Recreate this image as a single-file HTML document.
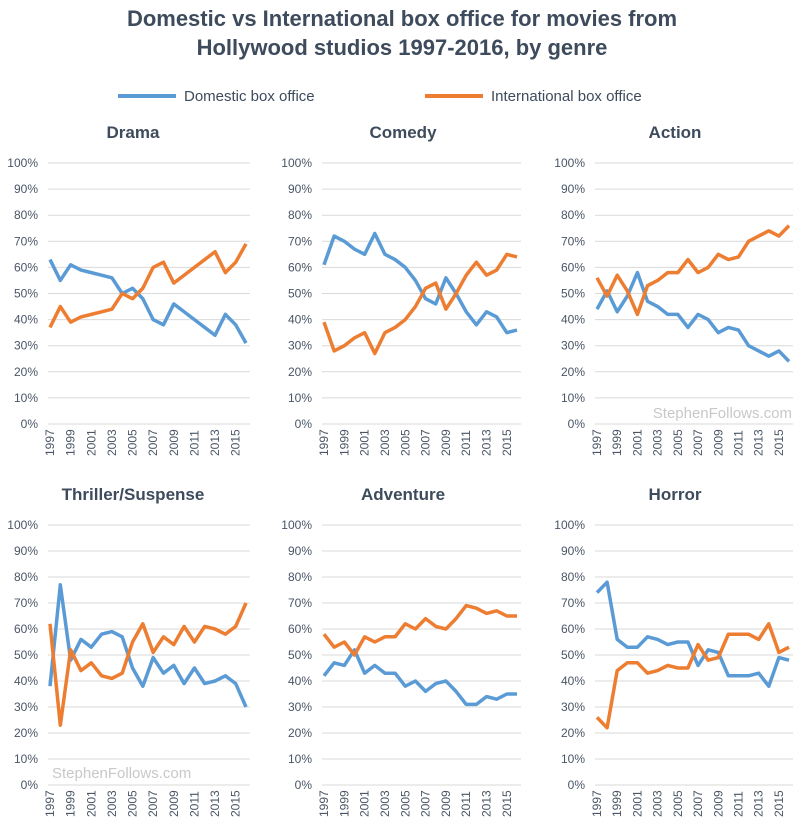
<!DOCTYPE html>
<html><head><meta charset="utf-8"><style>
body{margin:0;background:#fff;font-family:"Liberation Sans",sans-serif;}
svg text{font-family:"Liberation Sans",sans-serif;}
</style></head><body>
<svg id="chart" width="805" height="832" xmlns="http://www.w3.org/2000/svg">
<text x="402" y="26" text-anchor="middle" font-size="22" font-weight="bold" fill="#3d4b5c">Domestic vs International box office for movies from</text>
<text x="402" y="55" text-anchor="middle" font-size="22" font-weight="bold" fill="#3d4b5c">Hollywood studios 1997-2016, by genre</text>
<g>
<line x1="118" y1="96" x2="176" y2="96" stroke="#5b9bd5" stroke-width="4"/>
<text x="184" y="101" font-size="15" fill="#3d4b5c">Domestic box office</text>
<line x1="425" y1="96" x2="483" y2="96" stroke="#ed7d31" stroke-width="4"/>
<text x="491" y="101" font-size="15" fill="#3d4b5c">International box office</text>
</g>
</svg>
<script>
const years=[1997,1998,1999,2000,2001,2002,2003,2004,2005,2006,2007,2008,2009,2010,2011,2012,2013,2014,2015,2016];
const genres=["Drama","Comedy","Action","Thriller/Suspense","Adventure","Horror"];
const dramaDom=[63,55,61,59,58,57,56,50,52,48,40,38,46,43,40,37,34,42,38,31];
const dramaIntl=[37,45,39,41,42,43,44,50,48,52,60,62,54,57,60,63,66,58,62,69];
const comedyDom=[61,72,70,67,65,73,65,63,60,55,48,46,56,50,43,38,43,41,35,36];
const comedyIntl=[39,28,30,33,35,27,35,37,40,45,52,54,44,50,57,62,57,59,65,64];
const actionDom=[44,51,43,49,58,47,45,42,42,37,42,40,35,37,36,30,28,26,28,24];
const actionIntl=[56,49,57,51,42,53,55,58,58,63,58,60,65,63,64,70,72,74,72,76];
const thrillerDom=[38,77,48,56,53,58,59,57,45,38,49,43,46,39,45,39,40,42,39,30];
const thrillerIntl=[62,23,52,44,47,42,41,43,55,62,51,57,54,61,55,61,60,58,61,70];
const adventureDom=[42,47,46,52,43,46,43,43,38,40,36,39,40,36,31,31,34,33,35,35];
const adventureIntl=[58,53,55,50,57,55,57,57,62,60,64,61,60,64,69,68,66,67,65,65];
const horrorDom=[74,78,56,53,53,57,56,54,55,55,46,52,51,42,42,42,43,38,49,48];
const horrorIntl=[26,22,44,47,47,43,44,46,45,45,54,48,49,58,58,58,56,62,51,53];
const yTicks=[0,10,20,30,40,50,60,70,80,90,100];
const domSeries=[dramaDom,comedyDom,actionDom,thrillerDom,adventureDom,horrorDom];
const intlSeries=[dramaIntl,comedyIntl,actionIntl,thrillerIntl,adventureIntl,horrorIntl];

const NS="http://www.w3.org/2000/svg";
const svg=document.getElementById('chart');
function mk(tag,attrs,parent){const e=document.createElementNS(NS,tag);for(const k in attrs)e.setAttribute(k,attrs[k]);parent.appendChild(e);return e;}
const colX=[[50,246],[324,517],[597,789]];
const rowY=[[424,163],[785,525]];
const titleY=[138,500];
const titleX=[133,403,675];
genres.forEach((g,i)=>{
  const c=i%3,r=Math.floor(i/3);
  const [x0,x1]=colX[c],[y0,y1]=rowY[r];
  const xs=k=>x0+(x1-x0)*k/(years.length-1);
  const ys=v=>y0+(y1-y0)*v/100;
  const grp=mk('g',{},svg);
  
  
  const t=mk('text',{x:titleX[c],y:titleY[r],'text-anchor':'middle','font-size':17,'font-weight':'bold',fill:'#3d4b5c'},grp);
  t.textContent=g;
  
  
  yTicks.forEach(v=>{
    const l=mk('line',{x1:x0-2,x2:x1+4,y1:ys(v),y2:ys(v),stroke:'#d9d9d9','stroke-width':1},grp);
    
    
    const tt=mk('text',{x:x0-12,y:ys(v)+4,'text-anchor':'end','font-size':12,fill:'#4a5566'},grp);
    tt.textContent=v+'%';
    
    
  });
  years.forEach((y,k)=>{
    if(k%2)return;
    const tt=mk('text',{transform:`translate(${xs(k)+4},${y0+32}) rotate(-90)`,'font-size':12,fill:'#4a5566'},grp);
    tt.textContent=y;
    
    
  });
  [[domSeries[i],'#5b9bd5','domestic-line'],[intlSeries[i],'#ed7d31','international-line']].forEach(([d,col,nm])=>{
    const p=mk('polyline',{points:d.map((v,k)=>xs(k)+','+ys(v)).join(' '),fill:'none',stroke:col,'stroke-width':3.5,'stroke-linejoin':'round'},grp);
    
    
  });
});
const w1=mk('text',{x:792,y:418,'text-anchor':'end','font-size':15,fill:'#c8c8c8'},svg);
w1.textContent='StephenFollows.com';


const w2=mk('text',{x:52,y:778,'font-size':15,fill:'#c8c8c8'},svg);
w2.textContent='StephenFollows.com';


</script>
</body></html>
